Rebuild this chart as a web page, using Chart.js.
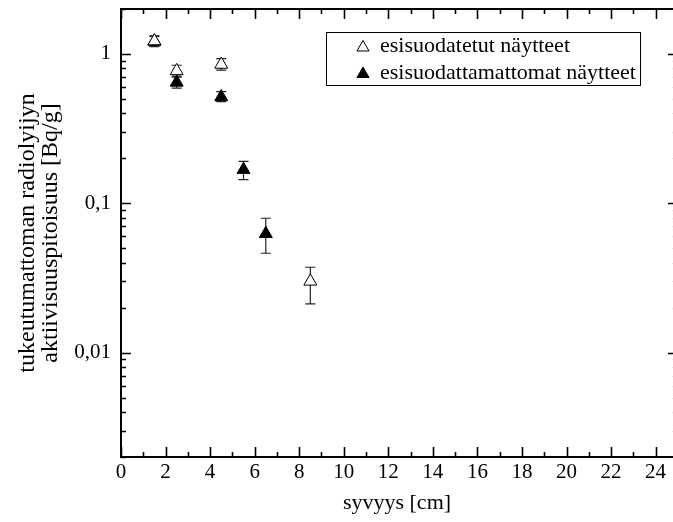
<!DOCTYPE html>
<html><head><meta charset="utf-8">
<script src="https://cdn.jsdelivr.net/npm/chart.js@4.4.1/dist/chart.umd.min.js"></script>
<style>
html,body{margin:0;padding:0;background:#fff;overflow:hidden}
canvas{display:block}
</style>
</head><body><canvas id="c" width="673" height="522" style="width:673px;height:522px"></canvas>
<script>
// ---- data ----
const depthPre = [1.5, 2.5, 4.5, 8.5];
const valuePre = [1.22, 0.77, 0.85, 0.030];
const lowPre   = [1.14, 0.71, 0.78, 0.0212];
const highPre  = [1.31, 0.84, 0.93, 0.0373];

const depthUnf = [1.5, 2.5, 4.5, 5.5, 6.5];
const valueUnf = [1.21, 0.645, 0.515, 0.168, 0.0625];
const lowUnf   = [1.12, 0.59, 0.48, 0.144, 0.0463];
const highUnf  = [1.32, 0.70, 0.56, 0.191, 0.0794];

const seriesNames = ['esisuodatetut näytteet', 'esisuodattamattomat näytteet'];
const xTickValues = [0, 2, 4, 6, 8, 10, 12, 14, 16, 18, 20, 22, 24];
const xTickLabels = ['0', '2', '4', '6', '8', '10', '12', '14', '16', '18', '20', '22', '24'];
const yTickValues = [0.01, 0.1, 1];
const yTickLabels = ['0,01', '0,1', '1'];
const xTitle = 'syvyys [cm]';
const yTitle = ['tukeutumattoman radiolyijyn', 'aktiivisuuspitoisuus [Bq/g]'];
const xAxisEnd = 25;      // right frame of the original plot (just outside the picture)
const xVisibleMax = 24.78;

const FONT = '"Liberation Serif", "Times New Roman", Times, serif';

function tri(ctx, x, y, r, filled) {
  ctx.beginPath();
  ctx.moveTo(x, y - r);
  ctx.lineTo(x + r * Math.sin(2 * Math.PI / 3), y + r / 2);
  ctx.lineTo(x - r * Math.sin(2 * Math.PI / 3), y + r / 2);
  ctx.closePath();
  ctx.fillStyle = filled ? '#000' : '#fff';
  ctx.fill();
  ctx.strokeStyle = '#000';
  ctx.lineWidth = 1;
  ctx.stroke();
}

const errorBars = {
  id: 'errorBars',
  beforeDatasetsDraw(chart) {
    const ctx = chart.ctx, xs = chart.scales.x, ys = chart.scales.y;
    ctx.save();
    ctx.strokeStyle = '#222';
    ctx.lineWidth = 1.2;
    chart.data.datasets.forEach(ds => {
      ds.data.forEach((p, j) => {
        const x = xs.getPixelForValue(p.x);
        const yl = ys.getPixelForValue(ds.errLow[j]);
        const yh = ys.getPixelForValue(ds.errHigh[j]);
        ctx.beginPath();
        ctx.moveTo(x, yl); ctx.lineTo(x, yh);
        ctx.moveTo(x - 5, yl); ctx.lineTo(x + 5, yl);
        ctx.moveTo(x - 5, yh); ctx.lineTo(x + 5, yh);
        ctx.stroke();
      });
    });
    ctx.restore();
  }
};

const frameTicks = {
  id: 'frameTicks',
  afterDraw(chart) {
    const ctx = chart.ctx, a = chart.chartArea, xs = chart.scales.x, ys = chart.scales.y;
    const rightX = xs.getPixelForValue(xAxisEnd);
    ctx.save();
    ctx.strokeStyle = '#000';
    ctx.lineWidth = 2;
    ctx.beginPath();
    ctx.moveTo(rightX, a.top); ctx.lineTo(a.left, a.top);
    ctx.lineTo(a.left, a.bottom); ctx.lineTo(rightX, a.bottom);
    ctx.lineTo(rightX, a.top);
    ctx.stroke();
    ctx.lineWidth = 1.6;
    ctx.beginPath();
    for (let v = 0; v <= xAxisEnd; v++) {
      const x = Math.round(xs.getPixelForValue(v)) + 0.5;
      const len = (v % 2 === 0) ? 10 : 5;
      ctx.moveTo(x, a.bottom); ctx.lineTo(x, a.bottom - len);
      ctx.moveTo(x, a.top); ctx.lineTo(x, a.top + len);
    }
    for (let e = -3; e <= 0; e++) {
      for (let m = 1; m <= 9; m++) {
        const v = m * Math.pow(10, e);
        if (v < ys.min * 0.999 || v > ys.max * 1.001) continue;
        const y = Math.round(ys.getPixelForValue(v)) + 0.5;
        const len = (m === 1) ? 10 : 5;
        ctx.moveTo(a.left, y); ctx.lineTo(a.left + len, y);
        ctx.moveTo(rightX, y); ctx.lineTo(rightX - len, y);
      }
    }
    ctx.stroke();
    ctx.restore();
  }
};

const boxLegend = {
  id: 'boxLegend',
  afterDraw(chart) {
    const ctx = chart.ctx, a = chart.chartArea;
    const bx = a.left + 205, by = a.top + 23, bw = 314, bh = 53;
    ctx.save();
    ctx.fillStyle = '#fff';
    ctx.fillRect(bx, by, bw, bh);
    ctx.strokeStyle = '#000';
    ctx.lineWidth = 1;
    ctx.strokeRect(bx + 0.5, by + 0.5, bw, bh);
    ctx.font = '22px ' + FONT;
    ctx.textBaseline = 'middle';
    ctx.textAlign = 'left';
    chart.data.datasets.forEach((ds, i) => {
      const yy = by + 14.5 + i * 26.5;
      tri(ctx, bx + 37, yy + 1, 7, ds.filledMarker);
      ctx.fillStyle = '#000';
      ctx.fillText(ds.label, bx + 54, yy);
    });
    ctx.restore();
  }
};

const ds = (label, xsA, ysA, lo, hi, filled) => ({
  label,
  data: xsA.map((x, i) => ({ x, y: ysA[i] })),
  errLow: lo, errHigh: hi, filledMarker: filled,
  showLine: false,
  pointStyle: 'triangle',
  pointRadius: 7.5,
  pointBorderWidth: 1,
  pointBackgroundColor: filled ? '#000' : '#fff',
  pointBorderColor: '#000'
});

new Chart(document.getElementById('c'), {
  type: 'scatter',
  data: {
    datasets: [
      ds(seriesNames[0], depthPre, valuePre, lowPre, highPre, false),
      ds(seriesNames[1], depthUnf, valueUnf, lowUnf, highUnf, true)
    ]
  },
  options: {
    responsive: false,
    maintainAspectRatio: false,
    animation: false,
    devicePixelRatio: 1,
    layout: { autoPadding: false, padding: { top: 9, right: 0, bottom: 0, left: 0 } },
    plugins: { legend: { display: false }, tooltip: { enabled: false } },
    scales: {
      x: {
        type: 'linear', min: 0, max: xVisibleMax,
        grid: { display: false, drawTicks: false },
        border: { display: false },
        afterBuildTicks: s => { s.ticks = xTickValues.map(v => ({ value: v })); },
        afterFit: s => { s.height = 65; s.paddingLeft = 0; s.paddingRight = 0; },
        ticks: {
          autoSkip: false, maxRotation: 0, padding: 3, color: '#000',
          font: { family: FONT, size: 21 },
          callback: v => { const i = xTickValues.indexOf(v); return i >= 0 ? xTickLabels[i] : ''; }
        },
        title: { display: true, text: xTitle, color: '#000', font: { family: FONT, size: 22 }, padding: { top: 0, bottom: 6 } }
      },
      y: {
        type: 'logarithmic', min: 0.002, max: 2,
        grid: { display: false, drawTicks: false },
        border: { display: false },
        afterBuildTicks: s => { s.ticks = yTickValues.map(v => ({ value: v })); },
        afterFit: s => { s.width = 121; s.paddingTop = 0; s.paddingBottom = 0; },
        ticks: {
          autoSkip: false, padding: 10, color: '#000',
          font: { family: FONT, size: 21 },
          callback: v => { const i = yTickValues.findIndex(t => Math.abs(t - v) / t < 1e-6); return i >= 0 ? yTickLabels[i] : ''; }
        },
        title: { display: true, text: yTitle, color: '#000', font: { family: FONT, size: 24, lineHeight: 0.96 }, padding: { top: 16, bottom: 0 } }
      }
    }
  },
  plugins: [errorBars, frameTicks, boxLegend]
});
</script>
</body></html>
